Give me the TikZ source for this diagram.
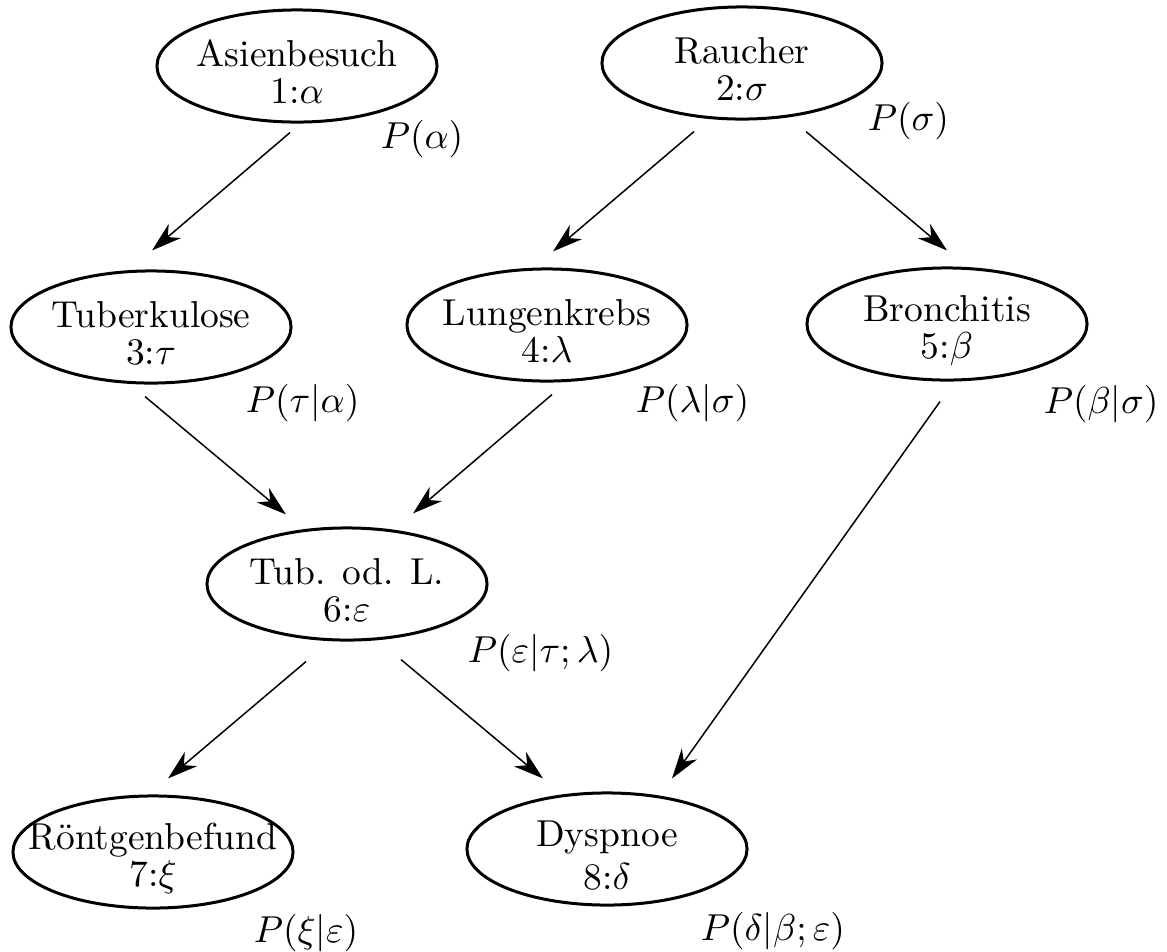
\documentclass[tikz,border=0pt]{standalone}
\usepackage{amsmath}
\usepackage{fontspec}
\usetikzlibrary{arrows.meta,calc,shapes.geometric}
\newcommand{\oben}{\rule{0pt}{10.3pt}}

\begin{document}
\begin{tikzpicture}[
    x=0.2667pt, y=-0.2667pt,
    knoten/.style={ellipse, draw, thick, minimum width=74.7pt, minimum height=29.9pt,
                   inner xsep=-8pt, inner ysep=-1pt, align=center,
                   font=\fontsize{10}{9.8}\selectfont},
    prob/.style={anchor=base west, inner sep=0pt},
    arr/.style={-{Stealth[length=8pt, width=5pt, inset=2.5pt]}, thin},
]
\useasboundingbox (0,0) rectangle (1167,951);

% Knoten
\node[knoten] (asien)   at (297,66)  {\oben Asienbesuch\\1:$\alpha$};
\node[knoten] (raucher) at (742,63)  {\oben Raucher\\2:$\sigma$};
\node[knoten] (tuber)   at (151,327) {\oben Tuberkulose\\3:$\tau$};
\node[knoten] (lungen)  at (547,325) {\oben Lungenkrebs\\4:$\lambda$};
\node[knoten] (bronch)  at (947,324) {\oben Bronchitis\\5:$\beta$};
\node[knoten] (tubodl)  at (347,584) {\oben Tub. od. L.\\6:$\varepsilon$};
\node[knoten] (roent)   at (153,852) {\oben Röntgenbefund\\7:$\xi$};
\node[knoten] (dysp)    at (607,849) {\oben Dyspnoe\\[1.5pt]8:$\delta$};

% Wahrscheinlichkeiten
\node[prob] (pa) at (380,148)  {$P(\alpha)$};
\node[prob] (ps) at (867,130)  {$P(\sigma)$};
\node[prob] (pt) at (245,412)  {$P(\tau|\alpha)$};
\node[prob] (pl) at (635,412)  {$P(\lambda|\sigma)$};
\node[prob] (pb) at (1043,413) {$P(\beta|\sigma)$};
\node[prob] (pe) at (467,662)  {$P(\varepsilon|\tau;\lambda)$};
\node[prob] (px) at (253,942)  {$P(\xi|\varepsilon)$};
\node[prob] (pd) at (700,940)  {$P(\delta|\beta;\varepsilon)$};

% Kanten
\draw[arr] ($(asien.south)+(-7,9)$)    -- ($(tuber.north)+(1,-19)$);
\draw[arr] ($(raucher.south)+(-48,11)$) -- ($(lungen.north)+(6,-16)$);
\draw[arr] ($(raucher.south)+(64,11)$)  -- ($(bronch.north)+(0,-16)$);
\draw[arr] ($(tuber.south)+(-6,12)$)   -- ($(tubodl.north)+(-61,-12)$);
\draw[arr] ($(lungen.south)+(5,12)$)   -- ($(tubodl.north)+(66,-13)$);
\draw[arr] ($(bronch.south)+(-7,20)$)  -- ($(dysp.north)+(65,-13)$);
\draw[arr] ($(tubodl.south)+(-41,20)$) -- ($(roent.north)+(15,-16)$);
\draw[arr] ($(tubodl.south)+(54,18)$)  -- ($(dysp.north)+(-64,-13)$);

\end{tikzpicture}
\end{document}
